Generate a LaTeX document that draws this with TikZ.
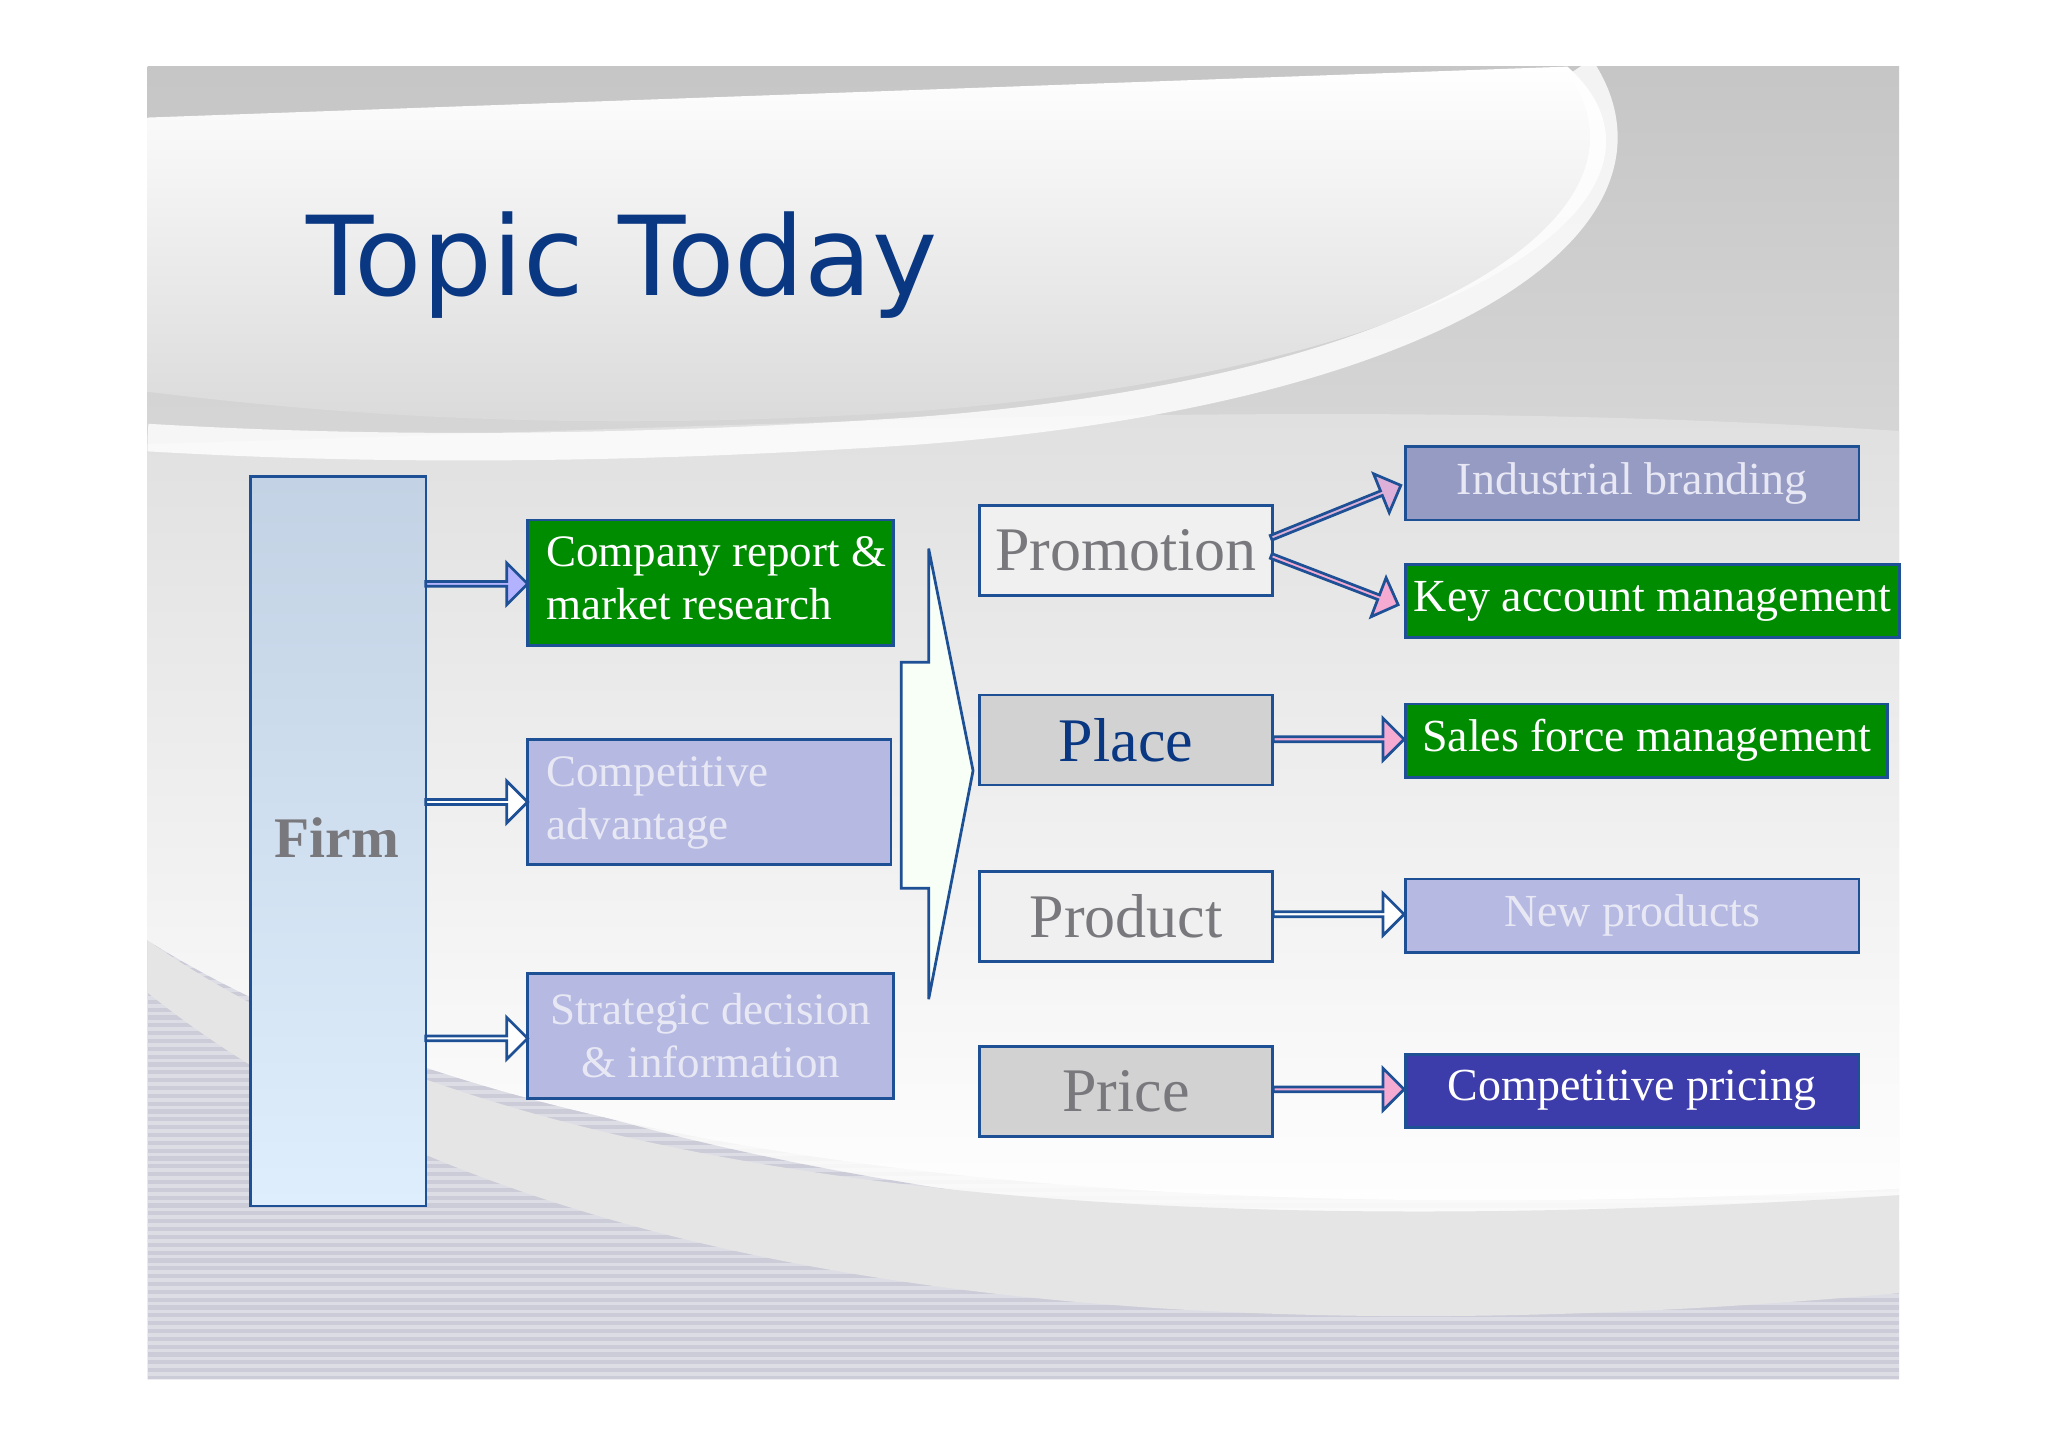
\documentclass[tikz,border=0pt]{standalone}
\usepackage{fontspec}
\setmainfont{Liberation Serif}
\newfontfamily\titlefont{DejaVu Sans}
\usetikzlibrary{shapes.arrows}
\definecolor{tblue}{RGB}{10,55,130}
\definecolor{bord}{RGB}{30,80,150}
\definecolor{grn}{RGB}{0,140,0}
\definecolor{lav}{RGB}{182,186,226}
\definecolor{lavtxt}{RGB}{232,232,245}
\definecolor{gtxt}{RGB}{120,120,125}
\definecolor{pinkA}{RGB}{245,170,210}
\definecolor{cpblue}{RGB}{60,60,170}
\definecolor{ibr}{RGB}{150,155,195}
\definecolor{firmtop}{RGB}{195,210,228}
\definecolor{firmbot}{RGB}{222,238,252}
\tikzset{
 box/.style={draw=bord,line width=0.6pt,inner sep=0,anchor=north west},
 bar/.style={single arrow,draw=bord,line width=0.6pt,inner sep=0,minimum width=0.32cm,single arrow head extend=0.08cm,single arrow head indent=0pt,anchor=center},
}
\begin{document}
\begin{tikzpicture}[x=0.01cm,y=-0.01cm]
\useasboundingbox (0,0) rectangle (1568,1108);
\fill[white] (0,0) rectangle (1568,1108);
% slide background
\shade[top color=gray!45,bottom color=white] (113,51) rectangle (1454,1056);
\begin{scope}
\clip (113,51) rectangle (1454,1056);
\fill[blue!15!gray!35] (113,700) .. controls (400,900) and (900,960) .. (1454,950) -- (1454,1056) -- (113,1056) -- cycle;
\foreach \yy in {710,716,...,1056} \draw[white,opacity=0.35,line width=0.8pt] (113,\yy) -- (1454,\yy);
\fill[gray!20] (113,720) .. controls (400,920) and (900,950) .. (1454,915) -- (1454,990) .. controls (900,1040) and (400,990) .. (113,760) -- cycle;
\shade[top color=gray!25,bottom color=white] (113,340) .. controls (500,330) and (1000,300) .. (1454,330) -- (1454,910) .. controls (900,940) and (400,900) .. (113,720) -- cycle;
\shade[top color=white,bottom color=gray!30] (113,90) -- (1200,51) .. controls (1300,140) and (1150,280) .. (700,315) .. controls (400,335) and (200,310) .. (113,300) -- cycle;
\draw[white,line width=6pt,opacity=0.8] (1210,51) .. controls (1290,170) and (1100,300) .. (700,330) .. controls (400,350) and (200,340) .. (113,335);
\end{scope}
\node[anchor=west,text=tblue,font=\titlefont\fontsize{24}{29}\selectfont] (title) at (222,203) {Topic Today};
% Firm
\node[box,top color=firmtop,bottom color=firmbot,minimum width=1.34cm,minimum height=5.58cm] (firm) at (191,364) {};
\node[text=gtxt,font=\bfseries\fontsize{12.5}{15}\selectfont] (firmt) at (258,641) {Firm};
% left boxes
\tikzset{lbox/.style={box,minimum width=2.8cm,minimum height=0.96cm,font=\fontsize{9.8}{11.6}\selectfont}}
\node[lbox,fill=grn,text=white,align=left] (cr) at (403,397) {\makebox[2.8cm][l]{\hspace*{0.14cm}\begin{tabular}{@{}l@{}}Company report \&\\market research\end{tabular}}};
\node[lbox,fill=lav,text=lavtxt,minimum width=2.78cm] (ca) at (403,565) {\makebox[2.78cm][l]{\hspace*{0.14cm}\begin{tabular}{@{}l@{}}Competitive\\advantage\end{tabular}}};
\node[lbox,fill=lav,text=lavtxt,align=center] (sd) at (403,744) {Strategic decision\\\& information};
\node[bar,fill=blue!30,minimum height=0.78cm] (a1) at (364,447) {};
\node[bar,fill=white,minimum height=0.78cm] (a2) at (364,614) {};
\node[bar,fill=white,minimum height=0.78cm] (a3) at (364,795) {};
% chevron
\draw[bord,line width=0.6pt,fill=green!3] (690,507) -- (711,507) -- (711,420) -- (745,590) -- (711,765) -- (711,680) -- (690,680) -- cycle;
% 4P
\tikzset{pbox/.style={box,minimum width=2.24cm,minimum height=0.69cm,font=\fontsize{13.5}{16}\selectfont}}
\node[pbox,fill=gray!12,text=gtxt] (promo) at (749,386) {Promotion};
\node[pbox,fill=gray!35,text=tblue] (place) at (749,531) {Place};
\node[pbox,fill=gray!12,text=gtxt] (prod) at (749,666) {Product};
\node[pbox,fill=gray!35,text=gtxt] (price) at (749,800) {Price};
% right boxes
\tikzset{rbox/.style={box,minimum height=0.56cm,font=\fontsize{10}{12}\selectfont}}
\node[rbox,fill=ibr,minimum width=3.47cm,text=lavtxt] (ib) at (1075,341) {Industrial branding};
\node[rbox,fill=grn,minimum width=3.78cm,text=white] (ka) at (1075,431) {Key account management};
\node[rbox,fill=grn,minimum width=3.69cm,text=white] (sf) at (1075,538) {Sales force management};
\node[rbox,fill=lav,minimum width=3.47cm,text=lavtxt] (np) at (1075,672) {New products};
\node[rbox,fill=cpblue,minimum width=3.47cm,text=white] (cp) at (1075,806) {Competitive pricing};
% arrows
\node[bar,fill=pinkA!60!lav,minimum height=1.07cm,rotate=22] (b1) at (1022,392) {};
\node[bar,fill=pinkA,minimum height=1.04cm,rotate=-21] (b2) at (1021,444) {};
\node[bar,fill=pinkA,minimum height=1.0cm] (b3) at (1024,566) {};
\node[bar,fill=white,minimum height=1.0cm] (b4) at (1024,700) {};
\node[bar,fill=pinkA,minimum height=1.0cm] (b5) at (1024,834) {};
\end{tikzpicture}
\end{document}
